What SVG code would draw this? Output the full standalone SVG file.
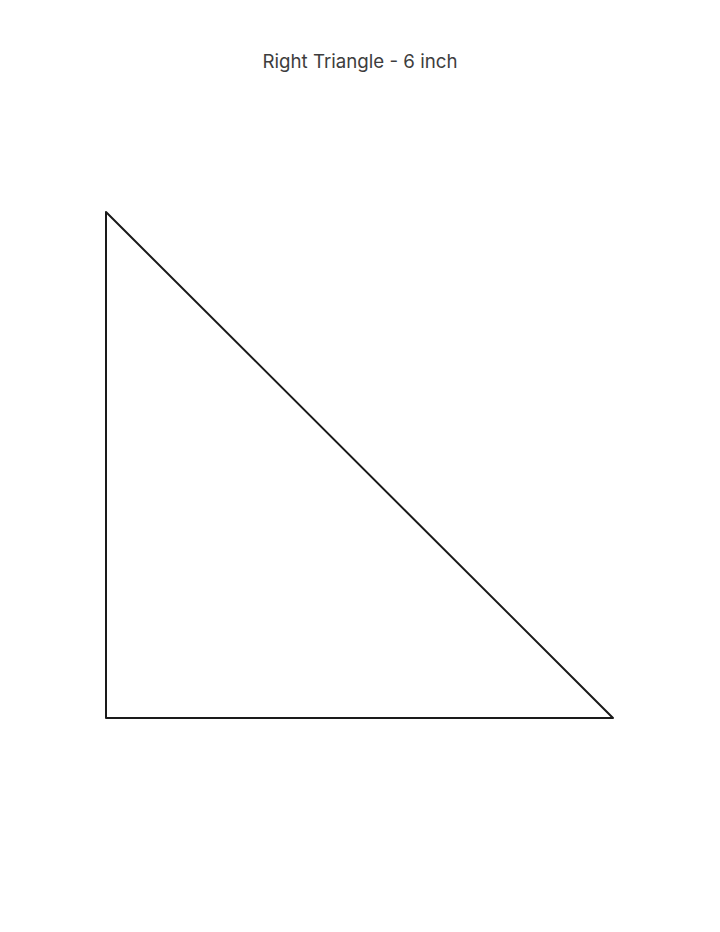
<svg xmlns="http://www.w3.org/2000/svg" width="720" height="932" viewBox="0 0 720 932">
<style>
.title{font-family:Inter,"Liberation Sans",sans-serif;font-size:18.7px;fill:#3d3d3d;text-anchor:middle}
.shape{fill:none;stroke:#1a1a1a;stroke-width:2;stroke-linejoin:round;stroke-linecap:round}
</style>
<rect width="720" height="932" fill="#ffffff"/>
<text class="title" x="360" y="68">Right Triangle - 6 inch</text>
<g id="triangle">
<polygon class="shape" points="106,212 106,718 613,718"/>
</g>
</svg>
